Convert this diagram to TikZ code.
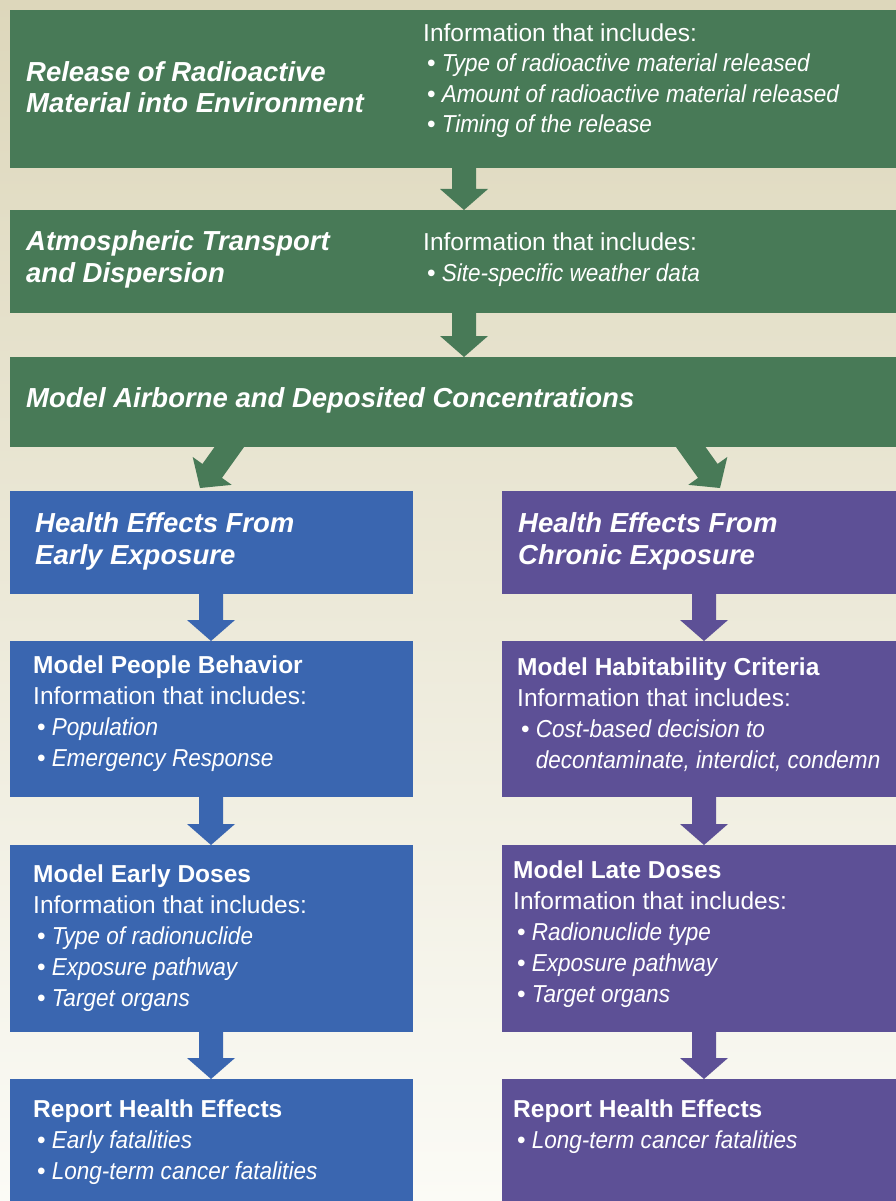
\documentclass[tikz,border=0pt]{standalone}
\usepackage{fontspec}
\setmainfont{Liberation Sans}[ItalicFeatures={FakeStretch=0.92}]
\usetikzlibrary{calc}
\usetikzlibrary{backgrounds}

\definecolor{grn}{HTML}{487A57}
\definecolor{blu}{HTML}{3A66B0}
\definecolor{pur}{HTML}{5D5096}
\definecolor{bgtop}{HTML}{DDD7BB}
\definecolor{bgbot}{HTML}{FBFBF6}

\newcommand{\itm}[1]{\hspace{4pt}{\upshape\textbullet}\hspace{6pt}\textit{#1}}
\newcommand{\cnt}[1]{\hspace{4pt}\phantom{\textbullet}\hspace{6pt}\textit{#1}}

% block arrow: colour, from, tip
\newcommand{\blockarrow}[3]{%
  \coordinate (ba-s) at (#2);
  \coordinate (ba-t) at (#3);
  \coordinate (ba-b) at ($(ba-t)!21pt!(ba-s)$);
  \fill[#1] ($(ba-s)!12pt!90:(ba-t)$) -- ($(ba-b)!12pt!90:(ba-t)$)
    -- ($(ba-b)!24pt!90:(ba-t)$) -- (ba-t) -- ($(ba-b)!24pt!-90:(ba-t)$)
    -- ($(ba-b)!12pt!-90:(ba-t)$) -- ($(ba-s)!12pt!-90:(ba-t)$) -- cycle;
}

\begin{document}
\begin{tikzpicture}[x=1pt, y=-1pt,
  box/.style={inner sep=0pt, outer sep=0pt, anchor=north west},
  gbox/.style={box, fill=grn, minimum width=886pt},
  bbox/.style={box, fill=blu, minimum width=403pt},
  pbox/.style={box, fill=pur, minimum width=394pt},
  % texts are placed at the baseline of their last line
  head/.style={anchor=base west, align=left, text=white, inner sep=0pt,
    font=\fontsize{27.5}{31.5}\selectfont\bfseries\itshape},
  info/.style={anchor=base west, align=left, text=white, inner sep=0pt,
    font=\fontsize{24.5}{31}\selectfont}]
  \useasboundingbox (0,0) rectangle (896,1201);

  % green boxes
  \node[gbox, minimum height=158pt] (rel) at (10,10) {};
  \node[gbox, minimum height=103pt] (atd) at (10,210) {};
  \node[gbox, minimum height=90pt] (air) at (10,357) {};

  \node[head] (rel-h) at (26,113) {Release of Radioactive\\Material into Environment};
  \node[info, font=\fontsize{24.5}{30.5}\selectfont] (rel-i) at (423,133) {Information that includes:\\
    \itm{Type of radioactive material released}\\
    \itm{Amount of radioactive material released}\\
    \itm{Timing of the release}};
  \node[head] (atd-h) at (26,282) {Atmospheric Transport\\and Dispersion};
  \node[info] (atd-i) at (423,281) {Information that includes:\\
    \itm{Site-specific weather data}};
  \node[head] (air-h) at (26,407) {Model Airborne and Deposited Concentrations};

  % early exposure
  \node[bbox, minimum height=103pt] (hee) at (10,491) {};
  \node[bbox, minimum height=156pt] (mpb) at (10,641) {};
  \node[bbox, minimum height=187pt] (med) at (10,845) {};
  \node[bbox, minimum height=122pt] (rhe) at (10,1079) {};

  \node[head] (hee-h) at (35,564) {Health Effects From\\Early Exposure};
  \node[info] (mpb-t) at (33,766) {\textbf{Model People Behavior}\\
    Information that includes:\\
    \itm{Population}\\
    \itm{Emergency Response}};
  \node[info] (med-t) at (33,1006) {\textbf{Model Early Doses}\\
    Information that includes:\\
    \itm{Type of radionuclide}\\
    \itm{Exposure pathway}\\
    \itm{Target organs}};
  \node[info] (rhe-t) at (33,1179) {\textbf{Report Health Effects}\\
    \itm{Early fatalities}\\
    \itm{Long-term cancer fatalities}};

  % chronic exposure
  \node[pbox, minimum height=103pt] (hce) at (502,491) {};
  \node[pbox, minimum height=156pt] (mhc) at (502,641) {};
  \node[pbox, minimum height=187pt] (mld) at (502,845) {};
  \node[pbox, minimum height=122pt] (rhc) at (502,1079) {};

  \node[head] (hce-h) at (518,564) {Health Effects From\\Chronic Exposure};
  \node[info] (mhc-t) at (517,768) {\textbf{Model Habitability Criteria}\\
    Information that includes:\\
    \itm{Cost-based decision to}\\
    \cnt{decontaminate, interdict, condemn}};
  \node[info] (mld-t) at (513,1002) {\textbf{Model Late Doses}\\
    Information that includes:\\
    \itm{Radionuclide type}\\
    \itm{Exposure pathway}\\
    \itm{Target organs}};
  \node[info] (rhc-t) at (513,1148) {\textbf{Report Health Effects}\\
    \itm{Long-term cancer fatalities}};

  \begin{scope}[on background layer]
    \shade[top color=bgtop, bottom color=bgbot] (0,0) rectangle (896,1201);
    \blockarrow{grn}{$(rel.south west)+(454,0)$}{$(atd.north west)+(454,0)$}
    \blockarrow{grn}{$(atd.south west)+(454,0)$}{$(air.north west)+(454,0)$}
    \blockarrow{grn}{$(air.south west)+(225,-8)$}{$(hee.north west)+(190,-3)$}
    \blockarrow{grn}{$(air.south west)+(675,-8)$}{$(hce.north west)+(218,-3)$}
    \blockarrow{blu}{$(hee.south west)+(201,0)$}{$(mpb.north west)+(201,0)$}
    \blockarrow{blu}{$(mpb.south west)+(201,0)$}{$(med.north west)+(201,0)$}
    \blockarrow{blu}{$(med.south west)+(201,0)$}{$(rhe.north west)+(201,0)$}
    \blockarrow{pur}{$(hce.south west)+(202,0)$}{$(mhc.north west)+(202,0)$}
    \blockarrow{pur}{$(mhc.south west)+(202,0)$}{$(mld.north west)+(202,0)$}
    \blockarrow{pur}{$(mld.south west)+(202,0)$}{$(rhc.north west)+(202,0)$}
  \end{scope}
\end{tikzpicture}
\end{document}
